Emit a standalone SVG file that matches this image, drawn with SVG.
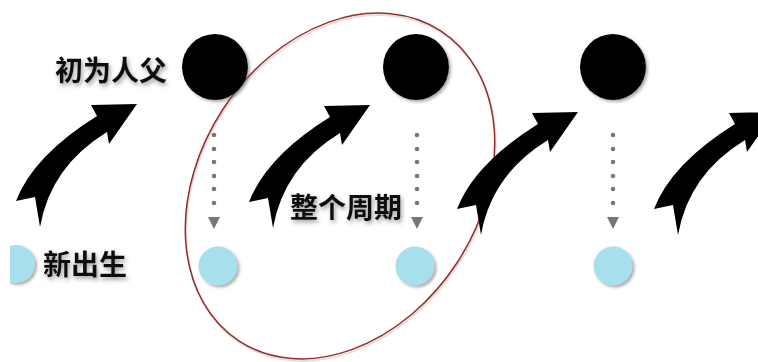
<svg xmlns="http://www.w3.org/2000/svg" width="758" height="362" viewBox="0 0 758 362">
  <defs>
    <filter id="sh" x="-30%" y="-30%" width="160%" height="160%">
      <feDropShadow dx="2" dy="2" stdDeviation="1.5" flood-color="#666" flood-opacity="0.55"/>
    </filter>
    <filter id="tsh" x="-20%" y="-30%" width="140%" height="160%">
      <feDropShadow dx="1.5" dy="2.5" stdDeviation="2" flood-color="#555" flood-opacity="0.6"/>
    </filter>
    <clipPath id="clipL"><rect x="10" y="0" width="100" height="362"/></clipPath>
    <path id="arrow" d="M137,104 L91,105 L97,116 Q33.5,155.5 16,201 L35,197 L40,227 Q50.5,166.5 107,132 L109,144 Z"/>
    <g id="dots">
      <circle cx="0" cy="135" r="2.3"/>
      <circle cx="0" cy="149" r="2.3"/>
      <circle cx="0" cy="162" r="2.3"/>
      <circle cx="0" cy="176" r="2.3"/>
      <circle cx="0" cy="189" r="2.3"/>
      <circle cx="0" cy="203" r="2.3"/>
      <polygon points="-6,217 6,217 0,229"/>
    </g>
  </defs>
  <style>
    .parent { fill: #000; filter: url(#sh); }
    .child { fill: #A7E0EC; filter: url(#sh); }
    .lbl { font-family: "Noto Sans CJK SC", "Noto Sans", sans-serif; font-weight: bold; font-size: 28px; fill: #111; filter: url(#tsh); }
    .bigarrow { fill: #000; }
    .dot { fill: #777; }
    .cycle { fill: none; stroke: #9A2B27; stroke-width: 1.5; }
    .cycle-sh { fill: none; stroke: #ccc; stroke-width: 2; opacity: 0.6; }
  </style>

  <rect width="758" height="362" fill="#fff"/>

  <g id="cycle">
    <ellipse class="cycle-sh" cx="341" cy="188" rx="185" ry="140" transform="rotate(-57 341 188)"/>
    <ellipse class="cycle" cx="340" cy="186" rx="185" ry="140" transform="rotate(-57 340 186)"/>
  </g>

  <g id="connectors">
    <use href="#arrow" class="bigarrow"/>
    <use href="#arrow" class="bigarrow" transform="translate(233,1)"/>
    <use href="#arrow" class="bigarrow" transform="translate(441,8)"/>
    <use href="#arrow" class="bigarrow" transform="translate(638,8)"/>
    <use href="#dots" class="dot" transform="translate(214,0)"/>
    <use href="#dots" class="dot" transform="translate(417,0)"/>
    <use href="#dots" class="dot" transform="translate(613,0)"/>
  </g>

  <g id="parent1"><circle class="parent" cx="215" cy="67" r="33"/></g>
  <g id="parent2"><circle class="parent" cx="416" cy="67" r="33"/></g>
  <g id="parent3"><circle class="parent" cx="613" cy="67" r="33"/></g>

  <g id="child0"><g clip-path="url(#clipL)"><circle class="child" cx="16" cy="264" r="19"/></g></g>
  <g id="child1"><circle class="child" cx="218" cy="266" r="19.5"/></g>
  <g id="child2"><circle class="child" cx="415" cy="266" r="19.5"/></g>
  <g id="child3"><circle class="child" cx="613" cy="266" r="19.5"/></g>

  <g id="label-father"><text class="lbl" x="55" y="81">初为人父</text></g>
  <g id="label-cycle"><text class="lbl" x="290" y="218">整个周期</text></g>
  <g id="label-newborn"><text class="lbl" x="43" y="275">新出生</text></g>
</svg>
